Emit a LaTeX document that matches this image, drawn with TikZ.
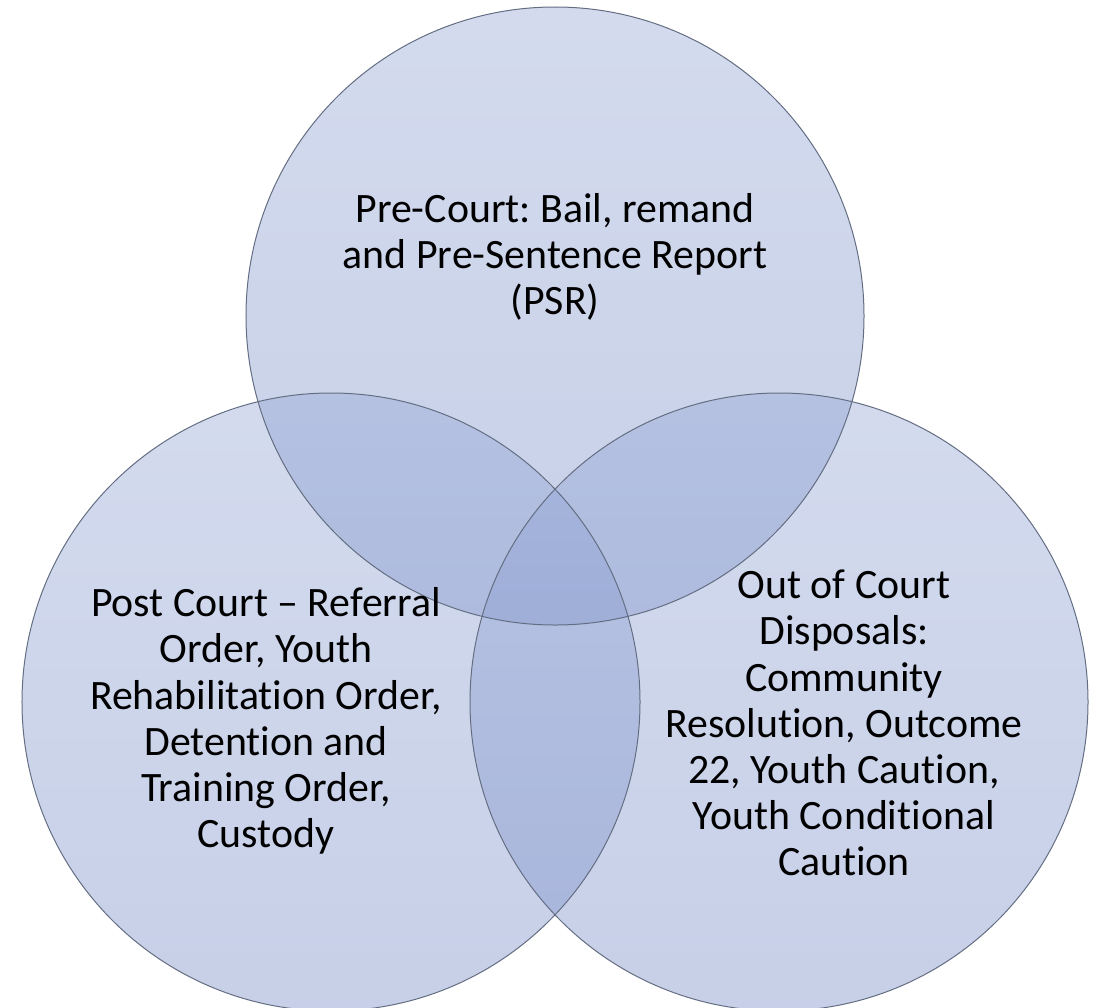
\documentclass[tikz,border=0pt]{standalone}
\usepackage{fontspec}
\setmainfont{Carlito}[Ligatures=NoCommon]
\frenchspacing
\definecolor{vtop}{RGB}{150,168,214}
\definecolor{vbot}{RGB}{122,142,200}
\definecolor{vline}{RGB}{100,110,130}
\tikzset{
  vennfill/.style={circle, inner sep=0pt, outer sep=0pt, minimum size=618bp,
    top color=vtop, bottom color=vbot, fill opacity=0.42},
  vennline/.style={circle, inner sep=0pt, outer sep=0pt, minimum size=618bp,
    draw=vline, line width=1bp},
  venntext/.style={align=center, font=\fontsize{42}{46.3}\selectfont, inner sep=0pt, text=black}
}
\begin{document}
\begin{tikzpicture}[x=1bp, y=-1bp]
\useasboundingbox (0,0) rectangle (1097,1008);
\node[vennfill] (ctop) at (555,316) {};
\node[vennfill] (cleft) at (331,702) {};
\node[vennfill] (cright) at (779,702) {};
\node[vennline] (otop) at (555,316) {};
\node[vennline] (oleft) at (331,702) {};
\node[vennline] (oright) at (779,702) {};
\node[venntext] (ttop) at (555,257) {Pre-Court: Bail, remand\\and Pre-Sentence Report\\(PSR)};
\node[venntext] (tleft) at (266,721) {Post Court -- Referral\\Order, Youth\\Rehabilitation Order,\\Detention and\\Training Order,\\Custody};
\node[venntext] (tright) at (844,723) {Out of Court\\Disposals:\\Community\\Resolution, Outcome\\22, Youth Caution,\\Youth Conditional\\Caution};
\end{tikzpicture}
\end{document}
